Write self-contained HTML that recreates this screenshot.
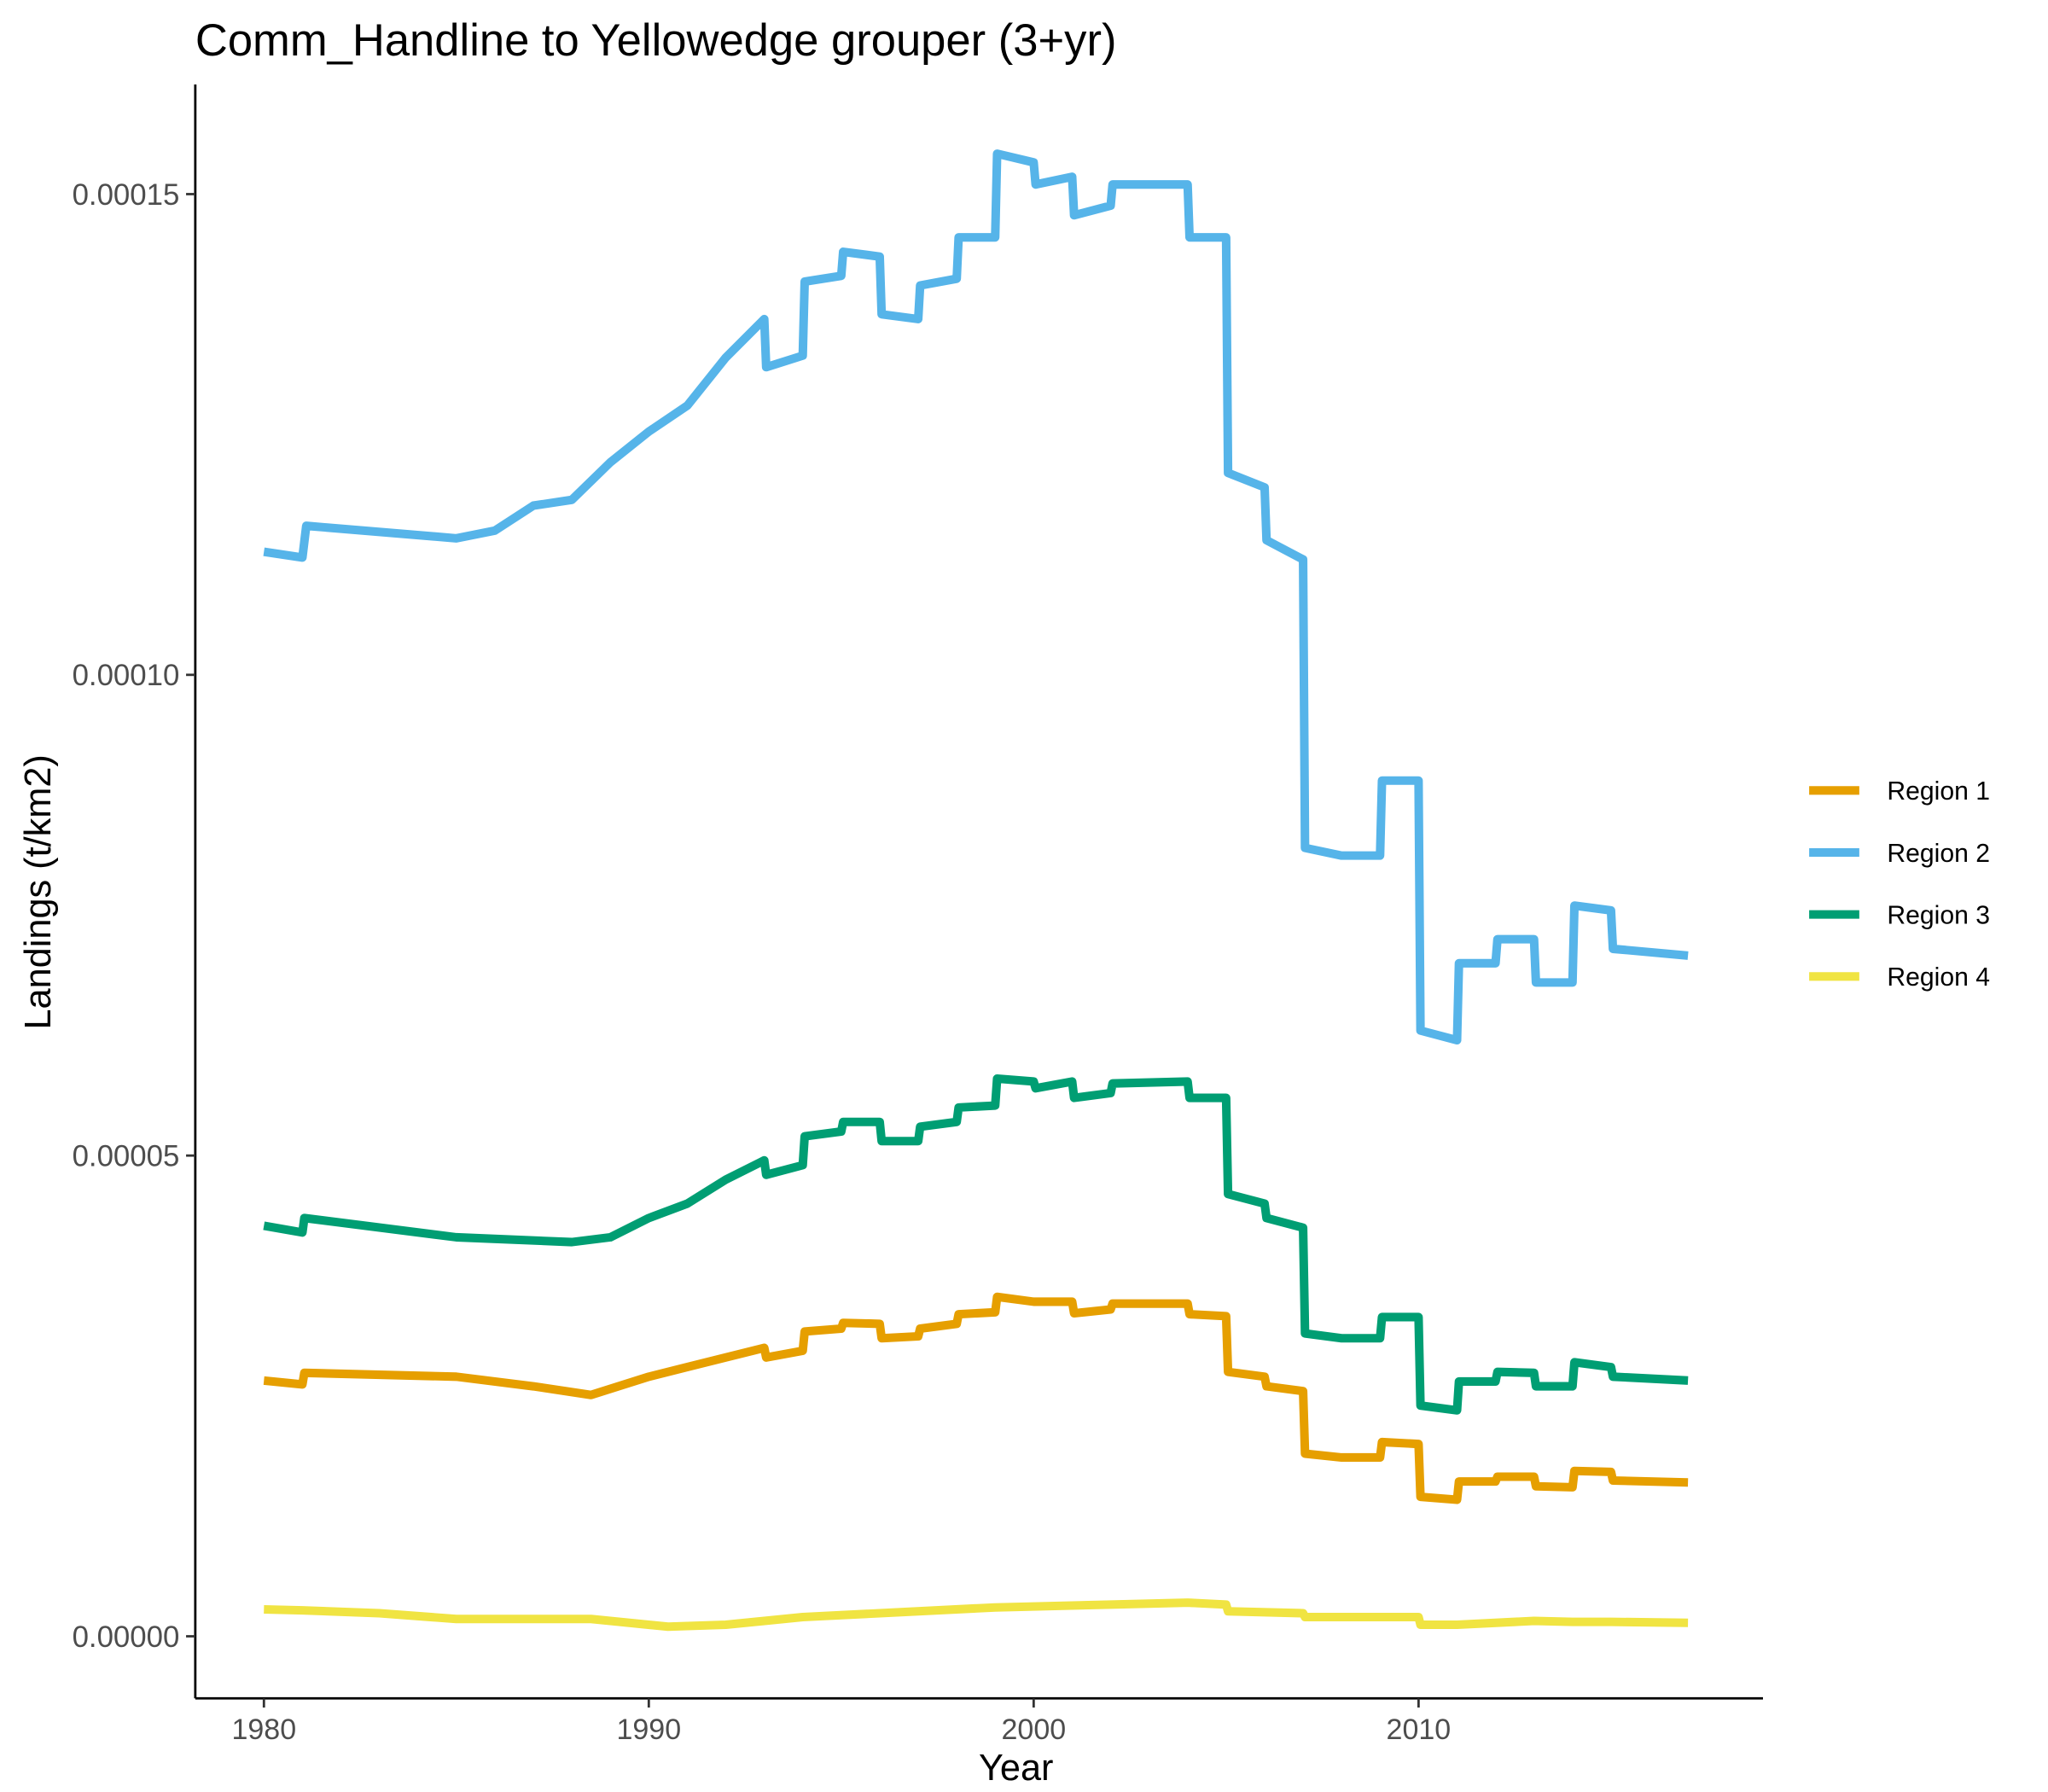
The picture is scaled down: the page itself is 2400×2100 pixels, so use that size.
<!DOCTYPE html>
<html><head><meta charset="utf-8"><style>html,body{margin:0;padding:0;background:#fff}svg{display:block}</style></head>
<body>
<svg id="chart" width="2400" height="2100" viewBox="0 0 1552 1358" preserveAspectRatio="none" xmlns="http://www.w3.org/2000/svg" font-family="Liberation Sans, sans-serif">
<rect width="1552" height="1358" fill="#fff"/>
<text x="148" y="42" font-size="34" fill="#000">Comm_Handline to Yellowedge grouper (3+yr)</text>
<g id="series"></g>
<line x1="148" y1="64" x2="148" y2="1287" stroke="#000" stroke-width="1.8"/>
<line x1="148" y1="1287" x2="1336" y2="1287" stroke="#000" stroke-width="1.8"/>
<g id="ticks"></g>
<text x="770" y="1349" font-size="28" text-anchor="middle">Year</text>
<text transform="translate(38,676) rotate(-90)" font-size="28" text-anchor="middle">Landings (t/km2)</text>
<g id="legend"></g>
</svg>
<script>
const xTicks=[1980,1990,2000,2010];
const yTicks=[0,5,10,15];
const yTickLabels=["0.00000","0.00005","0.00010","0.00015"];
const seriesNames=["Region 1","Region 2","Region 3","Region 4"];
const seriesColors=["#E69F00","#56B4E9","#009E73","#F0E442"];
// values in units of 1e-5 t/km2
const r1Years=[1980,1981,1981.05,1985,1987,1988.5,1990,1991,1992,1993,1993.05,1994,1994.05,1995,1995.05,1996,1996.05,1997,1997.05,1998,1998.05,1999,1999.05,2000,2001,2001.05,2002,2002.05,2004,2004.05,2005,2005.05,2006,2006.05,2007,2007.05,2008,2009,2009.05,2010,2010.05,2011,2011.05,2012,2012.05,2013,2013.05,2014,2014.05,2015,2015.05,2017];
const r1Vals=[2.66,2.62,2.74,2.7,2.6,2.51,2.7,2.8,2.9,3.0,2.9,2.97,3.17,3.2,3.26,3.25,3.1,3.12,3.2,3.25,3.35,3.37,3.53,3.48,3.48,3.36,3.4,3.46,3.46,3.35,3.33,2.75,2.7,2.6,2.55,1.9,1.86,1.86,2.02,2.0,1.45,1.42,1.61,1.61,1.66,1.66,1.56,1.55,1.72,1.71,1.62,1.6];
const r2Years=[1980,1981,1981.1,1985,1986,1987,1988,1989,1990,1991,1992,1993,1993.05,1994,1994.05,1995,1995.05,1996,1996.05,1997,1997.05,1998,1998.05,1999,1999.05,2000,2000.05,2001,2001.05,2002,2002.05,2004,2004.05,2005,2005.05,2006,2006.05,2007,2007.05,2008,2009,2009.05,2010,2010.05,2011,2011.05,2012,2012.05,2013,2013.05,2014,2014.05,2015,2015.05,2017];
const r2Vals=[11.28,11.22,11.55,11.42,11.5,11.76,11.82,12.21,12.53,12.8,13.3,13.7,13.2,13.32,14.09,14.15,14.4,14.35,13.75,13.7,14.05,14.12,14.55,14.55,15.42,15.33,15.1,15.18,14.78,14.88,15.1,15.1,14.55,14.55,12.1,11.95,11.4,11.2,8.2,8.12,8.12,8.9,8.9,6.3,6.2,7.0,7.0,7.25,7.25,6.8,6.8,7.6,7.55,7.15,7.08];
const r3Years=[1980,1981,1981.05,1985,1988,1989,1990,1991,1992,1993,1993.05,1994,1994.05,1995,1995.05,1996,1996.05,1997,1997.05,1998,1998.05,1999,1999.05,2000,2000.05,2001,2001.05,2002,2002.05,2004,2004.05,2005,2005.05,2006,2006.05,2007,2007.05,2008,2009,2009.05,2010,2010.05,2011,2011.05,2012,2012.05,2013,2013.05,2014,2014.05,2015,2015.05,2017];
const r3Vals=[4.27,4.2,4.35,4.15,4.1,4.15,4.35,4.5,4.75,4.95,4.8,4.9,5.2,5.25,5.35,5.35,5.15,5.15,5.3,5.35,5.5,5.52,5.8,5.77,5.7,5.77,5.6,5.65,5.75,5.77,5.6,5.6,4.6,4.5,4.35,4.25,3.15,3.1,3.1,3.32,3.32,2.4,2.35,2.65,2.65,2.75,2.74,2.6,2.6,2.85,2.8,2.7,2.66];
const r4Years=[1980,1981,1983,1985,1988.5,1990.5,1992,1994,1996,1999,2002,2004,2005,2005.05,2007,2007.05,2009,2010,2010.05,2011,2013,2014,2015,2017];
const r4Vals=[0.28,0.27,0.24,0.18,0.18,0.1,0.12,0.2,0.24,0.3,0.33,0.35,0.33,0.26,0.24,0.2,0.2,0.2,0.12,0.12,0.16,0.15,0.15,0.14];
const allYears=[r1Years,r2Years,r3Years,r4Years];
const allVals=[r1Vals,r2Vals,r3Vals,r4Vals];

const NS="http://www.w3.org/2000/svg";
function xs(y){return 200+(y-1980)*(875/30);}
function ys(v){return 1240-v*(364.3/5);}
const sg=document.getElementById('series');
for(let s=0;s<4;s++){
  const p=document.createElementNS(NS,'path');
  let d='';
  allYears[s].forEach((yr,i)=>{d+=(i?'L':'M')+xs(yr).toFixed(2)+','+ys(allVals[s][i]).toFixed(2);});
  p.setAttribute('d',d);
  p.setAttribute('fill','none');
  p.setAttribute('stroke',seriesColors[s]);
  p.setAttribute('stroke-width','6.5');
  p.setAttribute('stroke-linejoin','round');
  
  
  sg.appendChild(p);
}
const tg=document.getElementById('ticks');
xTicks.forEach(t=>{
  const l=document.createElementNS(NS,'line');
  l.setAttribute('x1',xs(t));l.setAttribute('x2',xs(t));l.setAttribute('y1',1287);l.setAttribute('y2',1294);
  l.setAttribute('stroke','#333');l.setAttribute('stroke-width','1.8');
  
  
  tg.appendChild(l);
  const tx=document.createElementNS(NS,'text');
  tx.setAttribute('x',xs(t));tx.setAttribute('y',1318);tx.setAttribute('text-anchor','middle');
  tx.setAttribute('font-size','22');tx.setAttribute('fill','#4d4d4d');
  tx.textContent=t;
  
  
  tg.appendChild(tx);
});
yTicks.forEach((t,i)=>{
  const l=document.createElementNS(NS,'line');
  l.setAttribute('x1',141);l.setAttribute('x2',148);l.setAttribute('y1',ys(t));l.setAttribute('y2',ys(t));
  l.setAttribute('stroke','#333');l.setAttribute('stroke-width','1.8');
  
  
  tg.appendChild(l);
  const tx=document.createElementNS(NS,'text');
  tx.setAttribute('x',136);tx.setAttribute('y',ys(t)+8);tx.setAttribute('text-anchor','end');
  tx.setAttribute('font-size','22.5');tx.setAttribute('fill','#4d4d4d');
  tx.textContent=yTickLabels[i];
  
  
  tg.appendChild(tx);
});
const lg=document.getElementById('legend');
seriesNames.forEach((n,i)=>{
  const y=599+i*47;
  const l=document.createElementNS(NS,'line');
  l.setAttribute('x1',1371);l.setAttribute('x2',1409);l.setAttribute('y1',y);l.setAttribute('y2',y);
  l.setAttribute('stroke',seriesColors[i]);l.setAttribute('stroke-width','6.5');
  
  
  lg.appendChild(l);
  const tx=document.createElementNS(NS,'text');
  tx.setAttribute('x',1430);tx.setAttribute('y',y+7);tx.setAttribute('font-size','19.5');
  tx.textContent=n;
  
  
  lg.appendChild(tx);
});
</script>
</body></html>
